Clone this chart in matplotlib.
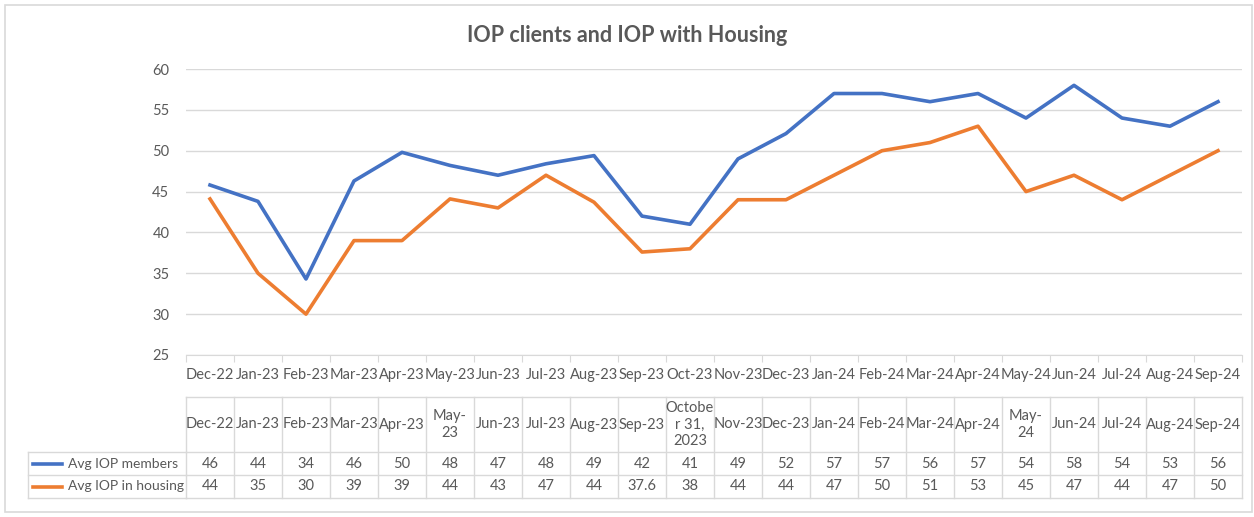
import matplotlib
matplotlib.use('Agg')
import matplotlib.pyplot as plt
import matplotlib.transforms as mtransforms
from matplotlib.lines import Line2D
from matplotlib.patches import Rectangle

plt.rcParams['font.family'] = ['Lato', 'DejaVu Sans']

meses = ['Dec-22', 'Jan-23', 'Feb-23', 'Mar-23', 'Apr-23', 'May-23', 'Jun-23', 'Jul-23',
         'Aug-23', 'Sep-23', 'Oct-23', 'Nov-23', 'Dec-23', 'Jan-24', 'Feb-24', 'Mar-24',
         'Apr-24', 'May-24', 'Jun-24', 'Jul-24', 'Aug-24', 'Sep-24']
encabezados = ['Dec-22', 'Jan-23', 'Feb-23', 'Mar-23', 'Apr-23', 'May-\n23', 'Jun-23', 'Jul-23',
               'Aug-23', 'Sep-23', 'Octobe\nr 31,\n2023', 'Nov-23', 'Dec-23', 'Jan-24', 'Feb-24',
               'Mar-24', 'Apr-24', 'May-\n24', 'Jun-24', 'Jul-24', 'Aug-24', 'Sep-24']

# valores de las lineas
miembros = [45.8, 43.8, 34.3, 46.3, 49.8, 48.2, 47.0, 48.4, 49.4, 42.0, 41.0, 49.0,
            52.1, 57, 57, 56, 57, 54, 58, 54, 53, 56]
vivienda = [44.1, 35, 30, 39, 39, 44.1, 43, 47, 43.7, 37.6, 38, 44,
            44, 47, 50, 51, 53, 45, 47, 44, 47, 50]

# valores mostrados en la tabla
tabla_miembros = ['46', '44', '34', '46', '50', '48', '47', '48', '49', '42', '41', '49',
                  '52', '57', '57', '56', '57', '54', '58', '54', '53', '56']
tabla_vivienda = ['44', '35', '30', '39', '39', '44', '43', '47', '44', '37.6', '38', '44',
                  '44', '47', '50', '51', '53', '45', '47', '44', '47', '50']

azul = '#4472c4'
naranja = '#ed7d31'
gris_txt = '#595959'
gris_lin = '#d9d9d9'

W, H = 1254, 517
fig = plt.figure(figsize=(W / 100, H / 100), dpi=100)
fig.patch.set_facecolor('white')

def fy(py):
    return 1 - py / H

def fx(px):
    return px / W

ax = fig.add_axes([fx(186), fy(355), fx(1242) - fx(186), fy(69) - fy(355)])
x = list(range(len(meses)))
ax.plot(x, miembros, color=azul, lw=2.6, solid_joinstyle='round')
ax.plot(x, vivienda, color=naranja, lw=2.6, solid_joinstyle='round')

ax.set_xlim(-0.5, len(meses) - 0.5)
ax.set_ylim(25, 60)
ax.set_yticks(range(25, 61, 5))
ax.grid(axis='y', color=gris_lin, lw=1)
ax.set_axisbelow(True)
for s in ['top', 'right', 'left']:
    ax.spines[s].set_visible(False)
ax.spines['bottom'].set_color(gris_lin)
ax.tick_params(axis='y', length=0, labelsize=10.5, labelcolor=gris_txt, pad=12)
ax.set_xticks([i - 0.5 for i in range(len(meses) + 1)], minor=False)
ax.set_xticklabels([])
ax.tick_params(axis='x', length=5, color=gris_lin, direction='out')

fig.text(0.5, fy(35), 'IOP clients and IOP with Housing', ha='center', va='center',
         fontsize=15.5, fontweight='bold', color=gris_txt)

bt = mtransforms.blended_transform_factory(ax.transData, fig.transFigure)

# etiquetas del eje x
for i, m in enumerate(meses):
    fig.text(i, fy(375), m, transform=bt, ha='center', va='center', fontsize=10.5, color=gris_txt)

# tabla de datos
y_top, y_h, y_r1, y_r2 = fy(397), fy(452), fy(475), fy(498)
n = len(meses)
fig.add_artist(Line2D([-0.5, n - 0.5], [y_top, y_top], transform=bt, color=gris_lin, lw=1))
for yy in [y_h, y_r1, y_r2]:
    fig.add_artist(Line2D([fx(28), fx(186)], [yy, yy], transform=fig.transFigure, color=gris_lin, lw=1))
    fig.add_artist(Line2D([-0.5, n - 0.5], [yy, yy], transform=bt, color=gris_lin, lw=1))
fig.add_artist(Line2D([fx(28), fx(28)], [y_h, y_r2], transform=fig.transFigure, color=gris_lin, lw=1))
for i in range(n + 1):
    fig.add_artist(Line2D([i - 0.5, i - 0.5], [y_top, y_r2], transform=bt, color=gris_lin, lw=1))

for i in range(n):
    fig.text(i, (y_top + y_h) / 2, encabezados[i], transform=bt, ha='center', va='center',
             fontsize=10.5, color=gris_txt, linespacing=1.2)
    fig.text(i, (y_h + y_r1) / 2, tabla_miembros[i], transform=bt, ha='center', va='center',
             fontsize=10.5, color=gris_txt)
    fig.text(i, (y_r1 + y_r2) / 2, tabla_vivienda[i], transform=bt, ha='center', va='center',
             fontsize=10.5, color=gris_txt)

# claves de la leyenda en la tabla
for yy, col, txt in [((y_h + y_r1) / 2, azul, 'Avg IOP members'),
                     ((y_r1 + y_r2) / 2, naranja, 'Avg IOP in housing')]:
    fig.add_artist(Line2D([fx(33), fx(62)], [yy, yy], transform=fig.transFigure, color=col, lw=2.6))
    fig.text(fx(68), yy, txt, ha='left', va='center', fontsize=10, color=gris_txt)

fig.add_artist(Rectangle((fx(5), fy(512)), fx(1252) - fx(5), fy(5) - fy(512),
                         transform=fig.transFigure, fill=False, edgecolor=gris_lin, lw=1.2))

fig.savefig('out.png', dpi=100)
